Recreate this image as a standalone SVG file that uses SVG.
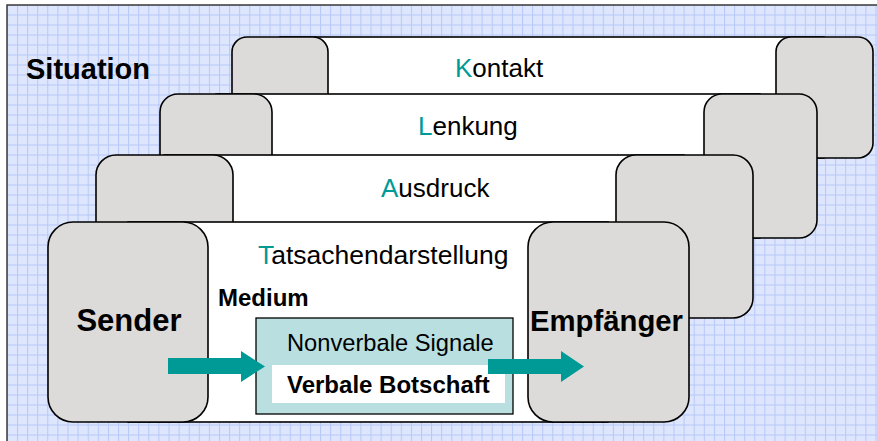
<svg xmlns="http://www.w3.org/2000/svg" width="877" height="441" viewBox="0 0 877 441">
  <defs>
    <pattern id="grid" patternUnits="userSpaceOnUse" x="17" y="14.5" width="10.1" height="10">
      <rect width="10.1" height="10" fill="#dde6fc"/>
      <rect x="0" y="0" width="1" height="10" fill="#b7c8f7"/>
      <rect x="0" y="0" width="10.1" height="1" fill="#b7c8f7"/>
    </pattern>
  </defs>
  <style>
    .band { fill: #ffffff; stroke: #000000; stroke-width: 1.6; }
    .end { fill: #dcdbd9; stroke: #000000; stroke-width: 1.6; }
    .lbl { font-family: "Liberation Sans", Arial, sans-serif; fill: #000000; }
    .init { fill: #009a96; }
    .bold { font-family: "Liberation Sans", Arial, sans-serif; font-weight: bold; fill: #000000; }
    .arrow { fill: #009a96; }
  </style>

  <!-- backdrop with grid and frame -->
  <rect x="0" y="0" width="877" height="441" fill="#ffffff"/>
  <rect x="7" y="5" width="870" height="436" fill="url(#grid)"/>
  <path d="M7,441 V5 H877" fill="none" stroke="#3a3a3a" stroke-width="1.5"/>

  <text id="situation" class="bold" x="26" y="79" font-size="29">Situation</text>

  <!-- layer: Kontakt -->
  <g id="kontakt">
    <rect class="band" x="280" y="37" width="544" height="121"/>
    <rect class="end" x="232" y="37" width="96" height="121" rx="15"/>
    <rect class="end" x="776" y="37" width="97" height="121" rx="15"/>
    <text class="lbl" x="455" y="77" font-size="26"><tspan class="init">K</tspan>ontakt</text>
  </g>

  <!-- layer: Lenkung -->
  <g id="lenkung">
    <rect class="band" x="216" y="94" width="544" height="144"/>
    <rect class="end" x="160" y="94" width="112" height="144" rx="18"/>
    <rect class="end" x="704" y="94" width="113" height="144" rx="18"/>
    <text class="lbl" x="418" y="135" font-size="26"><tspan class="init">L</tspan>enkung</text>
  </g>

  <!-- layer: Ausdruck -->
  <g id="ausdruck">
    <rect class="band" x="164" y="155" width="520" height="163"/>
    <rect class="end" x="96" y="155" width="137" height="163" rx="20"/>
    <rect class="end" x="616" y="155" width="137" height="163" rx="20"/>
    <text class="lbl" x="381" y="197" font-size="26"><tspan class="init">A</tspan>usdruck</text>
  </g>

  <!-- layer: Tatsachendarstellung with sender and receiver -->
  <g id="tatsachendarstellung">
    <rect class="band" x="128" y="222" width="480" height="200"/>
    <text class="lbl" x="258" y="264" font-size="26.5"><tspan class="init">T</tspan>atsachendarstellung</text>
  </g>

  <g id="sender">
    <rect class="end" x="48" y="222" width="160" height="200" rx="25"/>
    <text class="bold" x="129" y="331" font-size="31" text-anchor="middle">Sender</text>
  </g>

  <g id="empfaenger">
    <rect class="end" x="528" y="222" width="161" height="200" rx="25"/>
    <text class="bold" x="606.5" y="331" font-size="29.3" text-anchor="middle">Empfänger</text>
  </g>

  <g id="medium">
    <text class="bold" x="218" y="306" font-size="24">Medium</text>
    <rect x="256" y="318" width="257" height="96" fill="#b9dfe0" stroke="#000000" stroke-width="1.3"/>
    <rect x="272" y="365" width="233" height="38" fill="#ffffff"/>
    <text class="lbl" x="287" y="351" font-size="23.7">Nonverbale Signale</text>
    <text class="bold" x="287" y="393" font-size="24">Verbale Botschaft</text>
  </g>

  <!-- flow arrows -->
  <g id="connectors">
    <path class="arrow" d="M168,358 H241 V351 L265,366.5 L241,382 V374 H168 Z"/>
    <path class="arrow" d="M488,359 H561 V351 L584,366.5 L561,382 V374 H488 Z"/>
  </g>
</svg>
